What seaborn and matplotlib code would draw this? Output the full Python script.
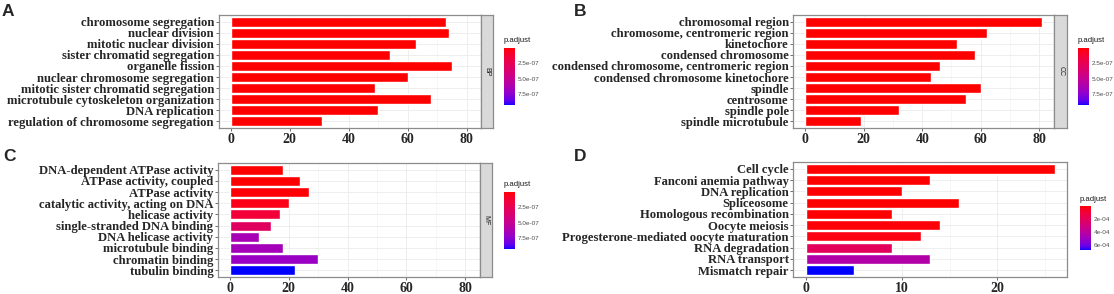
import numpy as np
import pandas as pd
import matplotlib
matplotlib.use('Agg')
import matplotlib.pyplot as plt
import seaborn as sns
from matplotlib.colors import ListedColormap, Normalize
from matplotlib.cm import ScalarMappable

# GO biological process
bp_terms = ['chromosome segregation', 'nuclear division', 'mitotic nuclear division',
            'sister chromatid segregation', 'organelle fission', 'nuclear chromosome segregation',
            'mitotic sister chromatid segregation', 'microtubule cytoskeleton organization',
            'DNA replication', 'regulation of chromosome segregation']
bp_count = [73, 74, 63, 54, 75, 60, 49, 68, 50, 31]
bp_padj = [1e-30, 1e-28, 1e-25, 1e-24, 1e-24, 1e-22, 1e-21, 1e-20, 1e-19, 1e-17]

# GO cellular component
cc_terms = ['chromosomal region', 'chromosome, centromeric region', 'kinetochore',
            'condensed chromosome', 'condensed chromosome, centromeric region',
            'condensed chromosome kinetochore', 'spindle', 'centrosome', 'spindle pole',
            'spindle microtubule']
cc_count = [81, 62, 52, 58, 46, 43, 60, 55, 32, 19]
cc_padj = [1e-36, 1e-30, 1e-28, 1e-27, 1e-25, 1e-24, 1e-22, 1e-15, 1e-13, 1e-11]

# GO molecular function
mf_terms = ['DNA-dependent ATPase activity', 'ATPase activity, coupled', 'ATPase activity',
            'catalytic activity, acting on DNA', 'helicase activity',
            'single-stranded DNA binding', 'DNA helicase activity', 'microtubule binding',
            'chromatin binding', 'tubulin binding']
mf_count = [18, 24, 27, 20, 17, 14, 10, 18, 30, 22]
mf_padj = [2e-09, 5e-09, 8e-09, 4e-08, 1.4e-07, 3.0e-07, 6.4e-07, 6.6e-07, 7.0e-07, 9.3e-07]

# KEGG
kegg_terms = ['Cell cycle', 'Fanconi anemia pathway', 'DNA replication', 'Spliceosome',
              'Homologous recombination', 'Oocyte meiosis',
              'Progesterone-mediated oocyte maturation', 'RNA degradation', 'RNA transport',
              'Mismatch repair']
kegg_count = [26, 13, 10, 16, 9, 14, 12, 9, 13, 5]
kegg_padj = [1e-15, 1e-07, 1e-06, 2e-06, 5e-06, 1e-05, 2e-05, 2.0e-04, 4.3e-04, 6.7e-04]

go_ticks = [2.5e-07, 5.0e-07, 7.5e-07]
go_ticklabels = ['2.5e-07', '5.0e-07', '7.5e-07']
kegg_ticks = [2e-04, 4e-04, 6e-04]
kegg_ticklabels = ['2e-04', '4e-04', '6e-04']

W, H = 1114, 294
SERIF = ['Liberation Serif', 'DejaVu Serif']
SANS = ['Liberation Sans', 'DejaVu Sans']

M = np.array([[0.4124, 0.3576, 0.1805], [0.2126, 0.7152, 0.0722], [0.0193, 0.1192, 0.9505]])
WHITE = np.array([0.95047, 1.0, 1.08883])


def to_lab(rgb):
    rgb = np.asarray(rgb, float)
    lin = np.where(rgb <= 0.04045, rgb / 12.92, ((rgb + 0.055) / 1.055) ** 2.4)
    xyz = (M @ lin) / WHITE
    f = np.where(xyz > 0.008856, np.cbrt(xyz), 7.787 * xyz + 16 / 116)
    return np.array([116 * f[1] - 16, 500 * (f[0] - f[1]), 200 * (f[1] - f[2])])


def from_lab(lab):
    fy = (lab[0] + 16) / 116
    f = np.array([fy + lab[1] / 500, fy, fy - lab[2] / 200])
    xyz = np.where(f ** 3 > 0.008856, f ** 3, (f - 16 / 116) / 7.787) * WHITE
    lin = np.clip(np.linalg.inv(M) @ xyz, 0, 1)
    rgb = np.where(lin <= 0.0031308, 12.92 * lin, 1.055 * lin ** (1 / 2.4) - 0.055)
    return np.clip(rgb, 0, 1)


# red -> blue gradient interpolated in Lab, like ggplot's continuous fill
lab_a, lab_b = to_lab([1, 0, 0]), to_lab([0, 0, 1])
cmap = ListedColormap([from_lab(lab_a + (lab_b - lab_a) * t) for t in np.linspace(0, 1, 256)])

sns.set_style('white')
plt.rcParams['font.family'] = SANS

fig = plt.figure(figsize=(W / 100, H / 100), dpi=100)


def px_axes(x0, y0, x1, y1):
    return fig.add_axes([x0 / W, 1 - y1 / H, (x1 - x0) / W, (y1 - y0) / H])


def bar_panel(box, strip_x, terms, counts, padj, norm, xlim, xticks, minor, strip_label):
    x0, y0, x1, y1 = box
    right = strip_x if strip_label else x1
    ax = px_axes(x0, y0, right, y1)
    ax.set_axisbelow(True)
    df = pd.DataFrame({'term': terms, 'count': counts})
    colors = [cmap(norm(p)) for p in padj]
    sns.barplot(data=df, x='count', y='term', hue='term', palette=colors, legend=False,
                width=0.9, saturation=1, orient='h', ax=ax)
    ax.set_xlim(*xlim)
    ax.set_ylim(len(terms) - 0.4, -0.6)
    ax.set_xticks(xticks)
    ax.set_xticks(minor, minor=True)
    ax.grid(True, which='major', color='#EBEBEB', linewidth=0.6)
    ax.grid(True, which='minor', axis='x', color='#F2F2F2', linewidth=0.4)
    ax.set_xlabel('')
    ax.set_ylabel('')
    ax.tick_params(which='major', length=2.2, width=0.5, color='#333333', pad=1.2)
    ax.tick_params(which='minor', length=0)
    ax.tick_params(axis='x', bottom=True)
    ax.tick_params(axis='y', left=True)
    for lab in ax.get_yticklabels():
        lab.set_family(SERIF)
        lab.set_fontweight('bold')
        lab.set_fontsize(9.1)
    for lab in ax.get_xticklabels():
        lab.set_family(SERIF)
        lab.set_fontweight('bold')
        lab.set_fontsize(10)
    for s in ax.spines.values():
        s.set_color('#8C8C8C')
        s.set_linewidth(0.9)
    if strip_label:
        sax = px_axes(strip_x, y0, x1, y1)
        sax.set_facecolor('#D9D9D9')
        sax.set_xticks([])
        sax.set_yticks([])
        for s in sax.spines.values():
            s.set_color('#8C8C8C')
            s.set_linewidth(0.9)
        sax.text(0.5, 0.5, strip_label, rotation=270, ha='center', va='center',
                 fontsize=5, color='#1A1A1A', transform=sax.transAxes)
    return ax


def color_legend(x0, y0, x1, y1, norm, ticks, ticklabels):
    cax = px_axes(x0, y0, x1, y1)
    cb = fig.colorbar(ScalarMappable(norm=norm, cmap=cmap), cax=cax)
    cb.outline.set_visible(False)
    cb.minorticks_off()
    cax.invert_yaxis()
    cb.set_ticks(ticks)
    cb.set_ticklabels(ticklabels)
    cax.tick_params(direction='in', length=2.2, width=0.6, color='white', left=True,
                    right=True, labelsize=4.6, labelcolor='#4D4D4D', pad=2)
    cax.text(0, 1.07, 'p.adjust', transform=cax.transAxes, ha='left', va='bottom',
             fontsize=5.6, color='#1A1A1A')


go_norm = Normalize(vmin=min(bp_padj + cc_padj + mf_padj), vmax=max(bp_padj + cc_padj + mf_padj))
kegg_norm = Normalize(vmin=min(kegg_padj), vmax=max(kegg_padj))

go_xlim = (-4.05, 85.05)
go_xt = [0, 20, 40, 60, 80]
go_minor = [10, 30, 50, 70]

bar_panel((218.6, 15, 493, 128), 481.4, bp_terms, bp_count, bp_padj, go_norm,
          go_xlim, go_xt, go_minor, 'BP')
color_legend(504, 48, 515, 105, go_norm, go_ticks, go_ticklabels)

bar_panel((793.4, 15, 1067.4, 128), 1054, cc_terms, cc_count, cc_padj, go_norm,
          go_xlim, go_xt, go_minor, 'CC')
color_legend(1078, 48, 1089, 105, go_norm, go_ticks, go_ticklabels)

bar_panel((218, 163, 492, 277), 480, mf_terms, mf_count, mf_padj, go_norm,
          go_xlim, go_xt, go_minor, 'MF')
color_legend(504, 192, 515, 249, go_norm, go_ticks, go_ticklabels)

bar_panel((793.4, 162, 1067.4, 277), None, kegg_terms, kegg_count, kegg_padj, kegg_norm,
          (-1.3, 27.3), [0, 10, 20], [5, 15, 25], None)
color_legend(1080, 206, 1091, 250, kegg_norm, kegg_ticks, kegg_ticklabels)

for letter, x, y in [('A', 2, 4), ('B', 574, 4), ('C', 3, 149), ('D', 574, 149)]:
    fig.text(x / W, 1 - y / H, letter, fontsize=12.5, fontweight='bold', family=SANS,
             ha='left', va='top')

fig.savefig('out.png', dpi=100, facecolor='white')
